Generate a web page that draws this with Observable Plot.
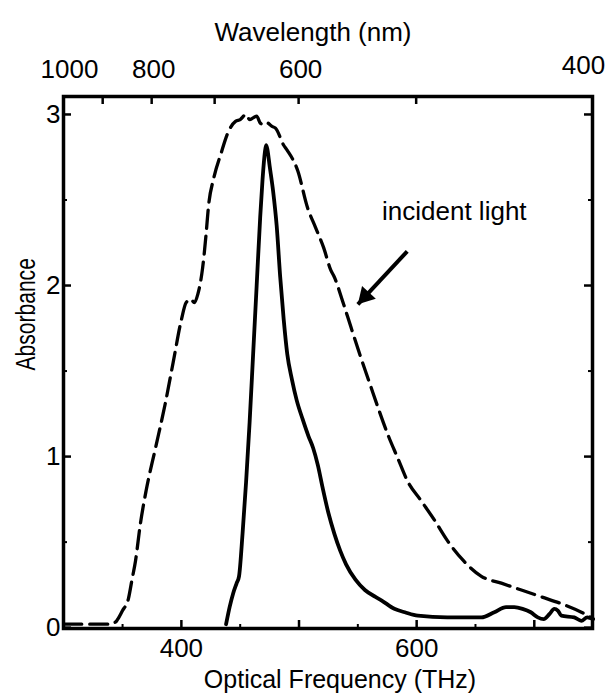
<!DOCTYPE html>
<html>
<head>
<meta charset="utf-8">
<script src="https://cdn.jsdelivr.net/npm/d3@7"></script>
<script src="https://cdn.jsdelivr.net/npm/@observablehq/plot@0.6"></script>
<style>
  html, body { margin: 0; padding: 0; background: #fff; }
  #chart svg { display: block; }
</style>
</head>
<body>
<div id="chart"></div>
<script>
// Absorption spectrum (solid) and spectrum of the incident light (dashed),
// plotted against optical frequency, with a wavelength scale on top.

// incident light spectrum: [frequency THz, absorbance]
const incidentFreq = [300, 320, 340, 345, 350, 355, 358, 361, 365, 370, 378, 386, 393, 400, 404, 408, 411, 414, 418, 421, 423, 427.6, 433.6, 440, 446, 450, 455, 458, 461, 464, 467, 470, 473, 477, 480, 487, 490, 499, 507, 514, 521, 527, 530, 537, 544, 552, 560, 568, 576, 584, 592, 604, 615, 626, 640, 655, 672, 689, 706, 723, 740, 748, 750];
const incidentAbs  = [0.02, 0.02, 0.02, 0.04, 0.10, 0.17, 0.28, 0.39, 0.60, 0.80, 1.05, 1.30, 1.55, 1.80, 1.90, 1.92, 1.90, 1.95, 2.10, 2.30, 2.46, 2.63, 2.77, 2.90, 2.96, 2.97, 3.00, 2.97, 2.98, 2.99, 2.95, 2.94, 2.95, 2.93, 2.92, 2.82, 2.79, 2.67, 2.46, 2.34, 2.22, 2.09, 2.05, 1.91, 1.76, 1.59, 1.43, 1.27, 1.12, 0.99, 0.86, 0.74, 0.63, 0.51, 0.39, 0.30, 0.26, 0.22, 0.18, 0.14, 0.09, 0.06, 0.05];

// measured absorption spectrum: [frequency THz, absorbance]
const sampleFreq = [438, 441, 444, 447, 449, 452, 455, 458, 461, 464, 467, 469, 471, 472, 473, 475, 478, 481, 484, 487, 490, 494, 498, 503, 508, 512, 516, 520, 525, 530, 535, 540, 548, 556, 565, 570, 581, 590, 601, 626, 655, 666, 676, 683, 690, 697, 703, 708, 713, 717, 720, 723, 734, 740, 745, 750];
const sampleAbs  = [0.02, 0.12, 0.20, 0.26, 0.30, 0.55, 0.85, 1.20, 1.60, 2.00, 2.40, 2.62, 2.78, 2.82, 2.80, 2.70, 2.55, 2.35, 2.05, 1.80, 1.60, 1.45, 1.33, 1.22, 1.12, 1.05, 0.95, 0.82, 0.67, 0.55, 0.45, 0.37, 0.28, 0.22, 0.18, 0.16, 0.11, 0.09, 0.07, 0.06, 0.06, 0.09, 0.12, 0.12, 0.11, 0.09, 0.06, 0.05, 0.08, 0.11, 0.10, 0.07, 0.06, 0.04, 0.06, 0.05];

// axis ticks
const freqMajor = [400, 500, 600, 700];
const freqMinor = [350, 450, 550, 650];
const freqLabels = [400, 600];
const wavelengthTicks = [1000, 900, 800, 700, 600, 500, 400];
const wavelengthInner = [800, 600];
const wavelengthFirst = [1000];
const wavelengthLast = [400];
const absMajor = [0, 1, 2, 3];
const absMinor = [0.5, 1.5, 2.5];

// annotation
const noteText = ["incident light"];
const noteFreq = [632];
const noteAbs = [2.43];
const arrowFrom = [{freq: 592, abs: 2.20}];
const arrowTo = [{freq: 550, abs: 1.89}];

const C = 299792.458; // nm·THz
const toFreq = (nm) => C / nm;

const incident = incidentFreq.map((f, i) => ({f, a: incidentAbs[i]}));
const sample = sampleFreq.map((f, i) => ({f, a: sampleAbs[i]}));
const arrow = arrowFrom.map((d, i) => ({f1: d.freq, a1: d.abs, f2: arrowTo[i].freq, a2: arrowTo[i].abs}));

const W = 614, H = 698;
const mt = 96, mb = 70, ml = 63, mr = 22;
const innerW = W - ml - mr, innerH = H - mt - mb;
const font = "'Liberation Sans', Arial, Helvetica, sans-serif";
const majorLen = 8, minorLen = 4;
const fs = 26;

const chart = Plot.plot({
  width: W,
  height: H,
  marginTop: mt,
  marginBottom: mb,
  marginLeft: ml,
  marginRight: mr,
  style: {fontFamily: font, fontSize: fs + "px", color: "#000", background: "#fff"},
  x: {domain: [toFreq(1000), toFreq(400)], axis: null},
  y: {domain: [-0.005, 3.105], axis: null},
  marks: [
    // bottom axis ticks (inward)
    Plot.tickX(freqMajor, {x: d => d, insetTop: innerH - majorLen, strokeWidth: 2.5, stroke: "#000"}),
    Plot.tickX(freqMinor, {x: d => d, insetTop: innerH - minorLen, strokeWidth: 2, stroke: "#000"}),
    // top wavelength ticks (inward)
    Plot.tickX(wavelengthTicks.map(toFreq), {x: d => d, insetBottom: innerH - majorLen, strokeWidth: 2.5, stroke: "#000"}),
    // left and right absorbance ticks (inward)
    Plot.tickY(absMajor, {y: d => d, insetRight: innerW - majorLen, strokeWidth: 2.5, stroke: "#000"}),
    Plot.tickY(absMinor, {y: d => d, insetRight: innerW - minorLen, strokeWidth: 2, stroke: "#000"}),
    Plot.tickY(absMajor, {y: d => d, insetLeft: innerW - majorLen, strokeWidth: 2.5, stroke: "#000"}),
    Plot.tickY(absMinor, {y: d => d, insetLeft: innerW - minorLen, strokeWidth: 2, stroke: "#000"}),

    // spectra
    Plot.line(incident, {x: "f", y: "a", stroke: "#000", strokeWidth: 3.3, strokeDasharray: "18,8", curve: "monotone-x"}),
    Plot.line(sample, {x: "f", y: "a", stroke: "#000", strokeWidth: 3.8, curve: "monotone-x"}),

    // frame
    Plot.frame({stroke: "#000", strokeWidth: 3.5}),

    // tick labels
    Plot.text(absMajor, {y: d => d, frameAnchor: "left", textAnchor: "end", dx: -3, text: d => String(d), fontSize: fs}),
    Plot.text(freqLabels, {x: d => d, frameAnchor: "bottom", lineAnchor: "middle", dy: 20, text: d => String(d), fontSize: fs}),
    Plot.text(wavelengthInner, {x: toFreq, frameAnchor: "top", lineAnchor: "middle", dy: -27, dx: 2, text: d => String(d), fontSize: fs}),
    Plot.text(wavelengthFirst, {x: toFreq, frameAnchor: "top", lineAnchor: "middle", dy: -27, dx: 6, text: d => String(d), fontSize: fs}),
    Plot.text(wavelengthLast, {x: toFreq, frameAnchor: "top", lineAnchor: "middle", dy: -31, dx: -9, text: d => String(d), fontSize: fs}),

    // axis titles
    Plot.text(["Wavelength (nm)"], {frameAnchor: "top", lineAnchor: "middle", dy: -64, dx: -15, fontSize: fs}),
    Plot.text(["Optical Frequency (THz)"], {frameAnchor: "bottom", lineAnchor: "middle", dy: 51, dx: 12, fontSize: 25}),
    Plot.text(["Absorbance"], {frameAnchor: "left", rotate: -90, dx: -37, dy: 8, fontSize: 27, className: "ytitle"}),

    // annotation: label and arrow with a solid head
    Plot.text(noteText, {x: (d, i) => noteFreq[i], y: (d, i) => noteAbs[i], fontSize: fs}),
    Plot.link(arrow, {x1: "f1", y1: "a1", x2: "f2", y2: "a2", stroke: "#000", strokeWidth: 4}),
    Plot.dot(arrow, {x: "f2", y: "a2", symbol: "triangle", r: 7, rotate: 223, dx: 7.4, dy: -8, fill: "#000", stroke: "none"})
  ]
});

// the vertical axis title is set in a narrower face: compress it along its baseline
d3.select(chart).selectAll("g.ytitle text").attr("transform", function () {
  return (this.getAttribute("transform") || "") + " scale(0.78,1)";
});

document.getElementById("chart").appendChild(chart);
</script>
</body>
</html>
